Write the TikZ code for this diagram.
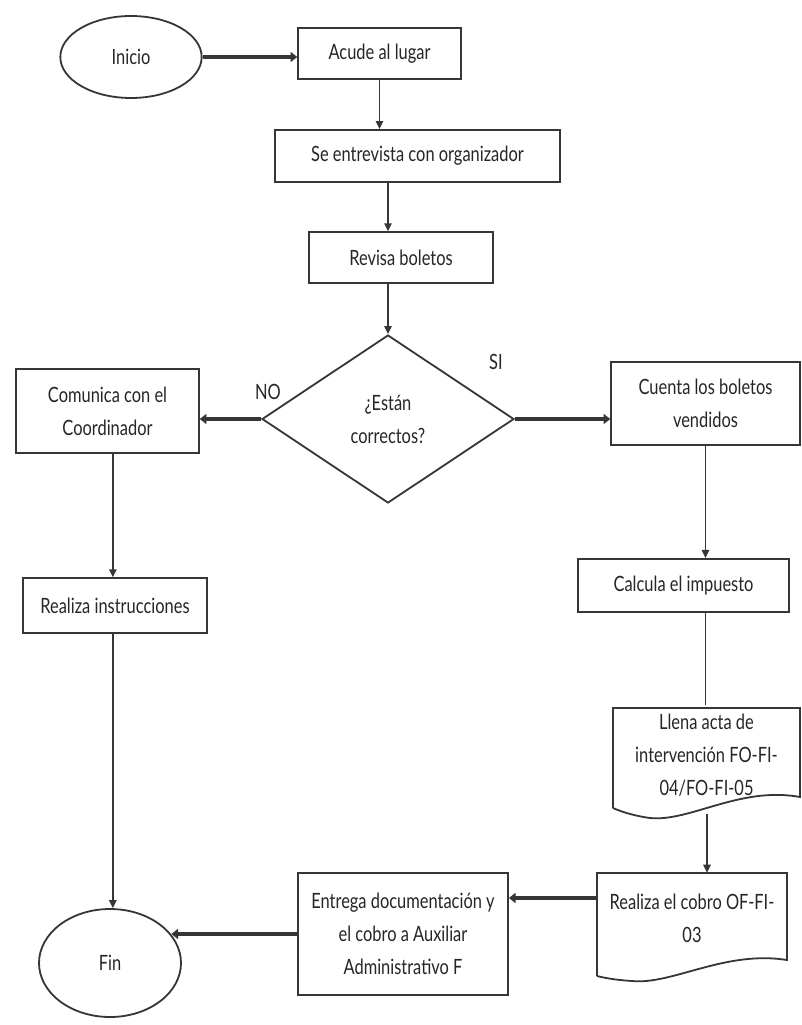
\documentclass[tikz,border=0pt]{standalone}
\usepackage{fontspec}
\setmainfont{Lato}[FakeStretch=0.78]
\usetikzlibrary{shapes.geometric,arrows.meta,calc}
\definecolor{ink}{HTML}{363636}
\definecolor{txt}{HTML}{262626}
\begin{document}
\begin{tikzpicture}[x=0.75pt,y=-0.75pt,
  every node/.style={font=\fontsize{15.8pt}{24.75pt}\selectfont, text=txt},
  box/.style={draw=ink, line width=1.35pt, rectangle, inner sep=2pt, align=center},
  oval/.style={draw=ink, line width=1.35pt, ellipse, inner sep=0pt},
  plain/.style={draw=none, rectangle, inner sep=0pt, align=center},
  thin/.style={draw=ink, line width=1.3pt, -{Triangle[length=6pt,width=5.5pt]}},
  thick/.style={draw=ink, line width=2.9pt, -{Triangle[length=5pt,width=7.5pt]}},
  lbl/.style={inner sep=0pt}
]
\useasboundingbox (0,0) rectangle (801,1025);
\fill[white] (0,0) rectangle (801,1025);

% nodes
\node[oval, minimum width=106pt, minimum height=61.5pt] (inicio) at (131,57) {Inicio};
\node[box, minimum width=122pt, minimum height=38pt] (acude) at (379.5,53.5) {Acude al lugar};
\node[box, minimum width=213.5pt, minimum height=39pt] (entrevista) at (417.5,156) {Se entrevista con organizador};
\node[box, minimum width=138pt, minimum height=38pt] (revisa) at (401,257.5) {Revisa boletos};
\node[draw=ink, line width=1.35pt, diamond, inner sep=0pt, minimum width=189pt, minimum height=126pt, align=center] (diam) at (388,419) {¿Están\\correctos?};
\node[lbl] (si) at (496,362) {SI};
\node[lbl] (no) at (268,392) {NO};
\node[box, minimum width=137pt, minimum height=63pt] (comunica) at (107.5,411) {Comunica con el\\Coordinador};
\node[box, minimum width=141.5pt, minimum height=62pt] (cuenta) at (705.5,403.5) {Cuenta los boletos\\vendidos};
\node[box, minimum width=138pt, minimum height=41pt] (instr) at (115,605.5) {Realiza instrucciones};
\node[box, minimum width=158pt, minimum height=40pt] (calcula) at (683.5,585.5) {Calcula el impuesto};

% document: Llena acta
\node[plain, minimum width=140.25pt, minimum height=75pt] (llena) at (706.5,755.5) {Llena acta de\\intervención FO-FI-\\04/FO-FI-05};
\draw[ink, line width=1.35pt] (613,808) -- (613,708) -- (800,708) -- (800,797)
  .. controls (740,786) and (690,822) .. (650,818)
  .. controls (635,816) and (622,812) .. (613,808);

% document: Realiza el cobro
\node[plain, minimum width=142.5pt, minimum height=67.5pt] (cobro) at (692,918) {Realiza el cobro OF-FI-\\03};
\draw[ink, line width=1.35pt] (597,976) -- (597,873) -- (787,873) -- (787,960)
  .. controls (725,950) and (672,985) .. (632,981)
  .. controls (616,980) and (605,978) .. (597,976);

\node[box, minimum width=157.5pt, minimum height=91.5pt] (entrega) at (403,934) {Entrega documentación y\\el cobro a Auxiliar\\Administrativo F};
\node[oval, minimum width=106.5pt, minimum height=81pt] (fin) at (110,963) {Fin};

% connectors
\draw[thick] (inicio.east) -- (inicio.east -| acude.west);
\draw[thin] (acude.south) -- (acude.south |- entrevista.north);
\draw[thin] (diam.north |- entrevista.south) -- (diam.north |- revisa.north);
\draw[thin] (diam.north |- revisa.south) -- (diam.north);
\draw[thick] (diam.west) -- (diam.west -| comunica.east);
\draw[thick] (diam.east) -- (diam.east -| cuenta.west);
\draw[thin] ([xshift=4pt]comunica.south) -- ([xshift=4pt]comunica.south |- instr.north);
\draw[thin] ([xshift=4pt]comunica.south |- instr.south) -- ([xshift=4pt]comunica.south |- fin.north);
\draw[thin] (cuenta.south) -- (cuenta.south |- calcula.north);
\draw[ink, line width=1.3pt] (cuenta.south |- calcula.south) -- (cuenta.south |- llena.north);
\coordinate (llenab) at (707,814);
\draw[thin] (llenab) -- (llenab |- cobro.north);
\draw[thick] ([yshift=15pt]cobro.west) -- ([yshift=15pt]cobro.west -| entrega.east);
\draw[thick] (entrega.west) -- (entrega.west -| fin.25);
\end{tikzpicture}
\end{document}
